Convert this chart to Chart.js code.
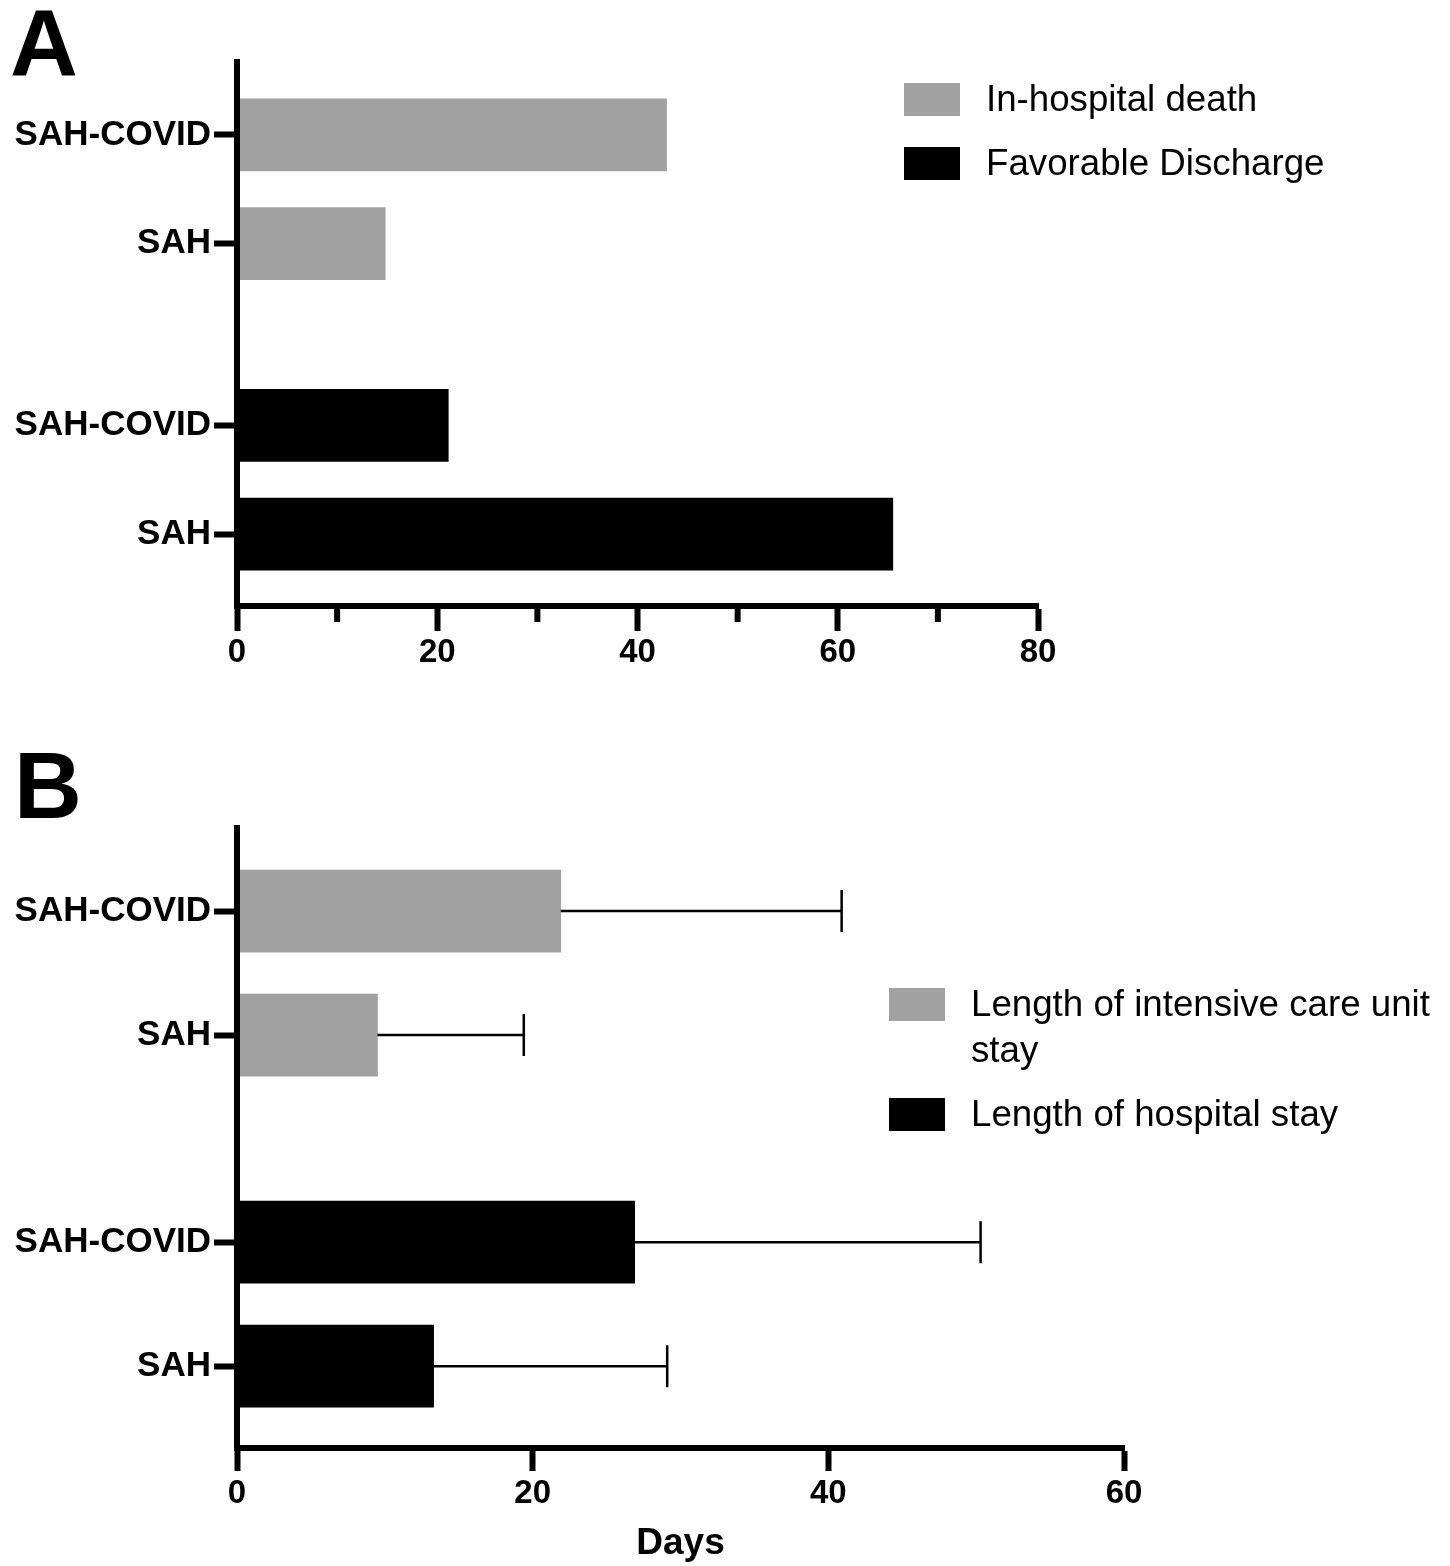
<!DOCTYPE html>
<html>
<head>
<meta charset="utf-8">
<script src="https://cdn.jsdelivr.net/npm/chart.js@4/dist/chart.umd.min.js"></script>
<style>
  html, body { margin: 0; padding: 0; background: #fff; }
  body { width: 1450px; height: 1566px; position: relative; overflow: hidden;
         font-family: "Liberation Sans", Arial, Helvetica, sans-serif; color: #000; }
  .panel { position: absolute; left: 0; width: 1450px; }
  #wrapA { top: 0; height: 700px; }
  #wrapB { top: 740px; height: 826px; }
  canvas { display: block; }
  .letter { position: absolute; font-weight: bold; font-size: 94px; line-height: 94px; }
  .legend { position: absolute; font-size: 36.7px; line-height: 46px; }
  .legend .item { display: flex; align-items: flex-start; margin-bottom: 18px; }
  .legend .sw { width: 56px; height: 33px; margin-top: 7px; margin-right: 26px; flex: none; }
  .legend .tx { white-space: normal; }
</style>
</head>
<body>
<div class="letter" style="left:10px; top:-3px;">A</div>
<div class="letter" style="left:14px; top:739px;">B</div>

<div class="panel" id="wrapA"><canvas id="chartA" width="1450" height="700"></canvas></div>
<div class="panel" id="wrapB"><canvas id="chartB" width="1450" height="826"></canvas></div>

<div class="legend" id="legendA" style="left:904px; top:76px;"></div>
<div class="legend" id="legendB" style="left:889px; top:981px; width:560px;"></div>

<script>
// ---------------- DATA ----------------
const rowLabels = ['SAH-COVID', 'SAH', 'SAH-COVID', 'SAH'];
const rowPos = [0.67, 1.67, 3.34, 4.34];          // vertical position of each row

// Panel A (percent of patients)
const seriesA = ['In-hospital death', 'Favorable Discharge'];
const deathPct = [42.9, 14.8];          // SAH-COVID, SAH
const favorablePct = [21.1, 65.5];      // SAH-COVID, SAH
const xTicksA = [0, 20, 40, 60, 80];
const xMinorA = [10, 30, 50, 70];

// Panel B (days, mean + SD)
const seriesB = ['Length of intensive care unit stay', 'Length of hospital stay'];
const icuDays = [21.9, 9.5];            // SAH-COVID, SAH
const icuSD = [19.0, 9.9];
const losDays = [26.9, 13.3];           // SAH-COVID, SAH
const losSD = [23.4, 15.8];
const xTicksB = [0, 20, 40, 60];
const xTitleB = 'Days';

const GREY = '#a1a1a1';
const BLACK = '#000000';
const FONT = '"Liberation Sans", Arial, Helvetica, sans-serif';

// ---------------- PLUGINS ----------------
const minorTicks = {
  id: 'minorTicks',
  afterDraw(chart, args, opts) {
    if (!opts.values || !opts.values.length) return;
    const sx = chart.scales.x, ctx = chart.ctx;
    const y0 = chart.chartArea.bottom;
    ctx.save();
    ctx.strokeStyle = '#000';
    ctx.lineWidth = opts.width;
    ctx.beginPath();
    opts.values.forEach(v => {
      const px = sx.getPixelForValue(v);
      ctx.moveTo(px, y0);
      ctx.lineTo(px, y0 + opts.length);
    });
    ctx.stroke();
    ctx.restore();
  }
};

const errorBars = {
  id: 'errorBars',
  afterDatasetsDraw(chart, args, opts) {
    const sx = chart.scales.x, ctx = chart.ctx;
    ctx.save();
    ctx.strokeStyle = '#000';
    ctx.lineWidth = opts.width || 2.5;
    chart.data.datasets.forEach((ds, i) => {
      if (!ds.errorSD) return;
      const meta = chart.getDatasetMeta(i);
      meta.data.forEach((bar, j) => {
        const val = ds.data[j].x;
        const xs = sx.getPixelForValue(val);
        const xe = sx.getPixelForValue(val + ds.errorSD[j]);
        const y = bar.y;
        ctx.beginPath();
        ctx.moveTo(xs, y);
        ctx.lineTo(xe, y);
        ctx.moveTo(xe, y - opts.cap);
        ctx.lineTo(xe, y + opts.cap);
        ctx.stroke();
      });
    });
    ctx.restore();
  }
};

// ---------------- HELPERS ----------------
function rows(values, offset) {
  return values.map((v, i) => ({ x: v, y: rowPos[offset + i] }));
}

function yScale() {
  return {
    type: 'linear', reverse: true, min: 0, max: 5, offset: false,
    afterBuildTicks: s => { s.ticks = rowPos.map(v => ({ value: v })); },
    afterFit: s => { s.width = 237; },
    ticks: {
      callback: (v, i) => rowLabels[i],
      color: '#000', padding: 3, autoSkip: false,
      font: { family: FONT, size: 35, weight: 'bold' }
    },
    grid: { offset: false, drawOnChartArea: false, drawTicks: true, tickLength: 23, tickWidth: 6, tickColor: '#000', z: 1 },
    border: { display: true, color: '#000', width: 6, z: 1 }
  };
}

function xScale(max, ticks, height, padding, tickLen, title) {
  return {
    type: 'linear', min: 0, max: max,
    afterBuildTicks: s => { s.ticks = ticks.map(v => ({ value: v })); },
    afterFit: s => { s.height = height; },
    ticks: {
      color: '#000', padding: padding, autoSkip: false, maxRotation: 0,
      font: { family: FONT, size: 33, weight: 'bold' }
    },
    grid: { drawOnChartArea: false, drawTicks: true, tickLength: tickLen, tickWidth: 6, tickColor: '#000', z: 1 },
    border: { display: true, color: '#000', width: 6, z: 1 },
    title: title ? { display: true, text: title, color: '#000', padding: 0,
                     font: { family: FONT, size: 37, weight: 'bold' } } : { display: false }
  };
}

function buildLegend(el, labels, colors) {
  labels.forEach((lab, i) => {
    const item = document.createElement('div');
    item.className = 'item';
    const sw = document.createElement('div');
    sw.className = 'sw';
    sw.style.background = colors[i];
    const tx = document.createElement('div');
    tx.className = 'tx';
    tx.textContent = lab;
    item.appendChild(sw); item.appendChild(tx);
    el.appendChild(item);
  });
}

// ---------------- CHART A ----------------
new Chart(document.getElementById('chartA'), {
  type: 'bar',
  data: {
    datasets: [
      { label: seriesA[0], data: rows(deathPct, 0), backgroundColor: GREY, barThickness: 72, grouped: false },
      { label: seriesA[1], data: rows(favorablePct, 2), backgroundColor: BLACK, barThickness: 72, grouped: false }
    ]
  },
  options: {
    indexAxis: 'y', responsive: false, animation: false,
    layout: { padding: { left: 0, top: 62, right: 412, bottom: 0 } },
    plugins: {
      legend: { display: false }, tooltip: { enabled: false },
      minorTicks: { values: xMinorA, length: 16, width: 6 },
      errorBars: { cap: 21, width: 2.5 }
    },
    scales: { x: xScale(80, xTicksA, 94, 2, 25, null), y: yScale() }
  },
  plugins: [minorTicks, errorBars]
});

// ---------------- CHART B ----------------
new Chart(document.getElementById('chartB'), {
  type: 'bar',
  data: {
    datasets: [
      { label: seriesB[0], data: rows(icuDays, 0), errorSD: icuSD, backgroundColor: GREY, barThickness: 82, grouped: false },
      { label: seriesB[1], data: rows(losDays, 2), errorSD: losSD, backgroundColor: BLACK, barThickness: 82, grouped: false }
    ]
  },
  options: {
    indexAxis: 'y', responsive: false, animation: false,
    layout: { padding: { left: 0, top: 88, right: 326, bottom: 0 } },
    plugins: {
      legend: { display: false }, tooltip: { enabled: false },
      minorTicks: { values: [] },
      errorBars: { cap: 21, width: 2.5 }
    },
    scales: { x: xScale(60, xTicksB, 118, 3, 23, xTitleB), y: yScale() }
  },
  plugins: [minorTicks, errorBars]
});

buildLegend(document.getElementById('legendA'), seriesA, [GREY, BLACK]);
buildLegend(document.getElementById('legendB'), seriesB, [GREY, BLACK]);
</script>
</body>
</html>
